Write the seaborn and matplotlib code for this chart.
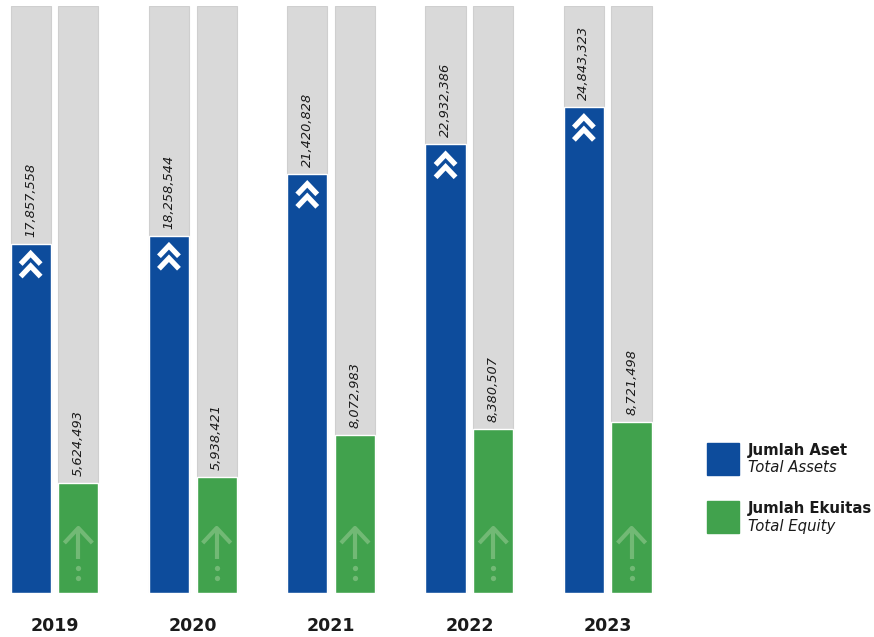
import numpy as np
import pandas as pd
import matplotlib
matplotlib.use('Agg')
import matplotlib.pyplot as plt
import seaborn as sns
from matplotlib import transforms
from matplotlib.patches import Rectangle

# ---- data ----
years = ['2019', '2020', '2021', '2022', '2023']
total_assets = [17857558, 18258544, 21420828, 22932386, 24843323]
total_equity = [5624493, 5938421, 8072983, 8380507, 8721498]
series_id = ['Jumlah Aset', 'Jumlah Ekuitas']
series_en = ['Total Assets', 'Total Equity']

BLUE = '#0d4c9c'
GREEN = '#41a24d'
GREY = '#d9d9d9'
ARROW = '#72b975'
YMAX = 30e6

sns.set_theme(style='white')
plt.rcParams['font.family'] = ['DejaVu Sans']

df = pd.DataFrame({
    'year': years * 2,
    'value': total_assets + total_equity,
    'series': [series_id[0]] * len(years) + [series_id[1]] * len(years),
})

fig = plt.figure(figsize=(8.74, 6.37), dpi=100)
fig.patch.set_facecolor('white')
ax = fig.add_axes([0, 44 / 637, 1, 587 / 637])
ax.set_facecolor('white')

sns.barplot(data=df, x='year', y='value', hue='series', hue_order=series_id,
            palette=[BLUE, GREEN], saturation=1, width=0.69, gap=0.157,
            dodge=True, legend=False, errorbar=None, ax=ax, zorder=2)
bars = list(ax.patches)
n = len(years)

# grey tracks behind bars
for p in bars:
    w = p.get_width()
    ax.bar(p.get_x() + w / 2, YMAX, width=w, color=GREY, edgecolor='#cfcfcf',
           linewidth=0.8, zorder=1)

ax.set_ylim(0, YMAX)
ax.set_xlim(-0.394, 5.925)

for i, p in enumerate(bars):
    x = p.get_x() + p.get_width() / 2
    h = p.get_height()
    ax.annotate(f'{h:,.0f}', (x, h), xytext=(0, 5), textcoords='offset points',
                rotation=90, ha='center', va='bottom', fontsize=9.3,
                style='italic', color='#1a1a1a', zorder=5)
    if i < n:
        # white double chevron below top of asset bar
        off = fig.dpi_scale_trans + transforms.ScaledTranslation(x, h, ax.transData)
        for dy in (-0.10, -0.225):
            ax.plot([-0.10, 0, 0.10], [dy - 0.105, dy, dy - 0.105],
                    color='white', lw=3.8, solid_capstyle='butt',
                    solid_joinstyle='miter', transform=off, zorder=4, clip_on=False)
    else:
        # faded arrow at foot of equity bar
        off = fig.dpi_scale_trans + transforms.ScaledTranslation(x, 0, ax.transData)
        ax.plot([-0.14, 0, 0.14], [0.50, 0.65, 0.50], color=ARROW, lw=3,
                solid_capstyle='butt', transform=off, zorder=4, clip_on=False)
        ax.plot([0, 0], [0.64, 0.34], color=ARROW, lw=3, solid_capstyle='butt',
                transform=off, zorder=4, clip_on=False)
        ax.plot([0, 0], [0.255, 0.15], color=ARROW, ls='none', marker='o', ms=3.8,
                mec='none', transform=off, zorder=4, clip_on=False)

ax.set_xticks(range(n))
ax.set_xticklabels(years, fontsize=12.5, fontweight='bold', color='#1a1a1a')
ax.tick_params(axis='x', length=0, pad=17)
ax.set_yticks([])
ax.set_xlabel('')
ax.set_ylabel('')
for s in ax.spines.values():
    s.set_visible(False)

# legend
W, H = 874, 637
for (top, col, t1, t2) in [(443, BLUE, series_id[0], series_en[0]),
                           (501, GREEN, series_id[1], series_en[1])]:
    fig.add_artist(Rectangle((707 / W, (H - top - 32) / H), 32 / W, 32 / H,
                             transform=fig.transFigure, color=col))
    fig.text(748 / W, (H - top - 7) / H, t1, fontsize=10.7, fontweight='bold',
             color='#1a1a1a', va='center', ha='left')
    fig.text(748 / W, (H - top - 25) / H, t2, fontsize=10.7, style='italic',
             color='#1a1a1a', va='center', ha='left')

fig.savefig('out.png', dpi=100)
